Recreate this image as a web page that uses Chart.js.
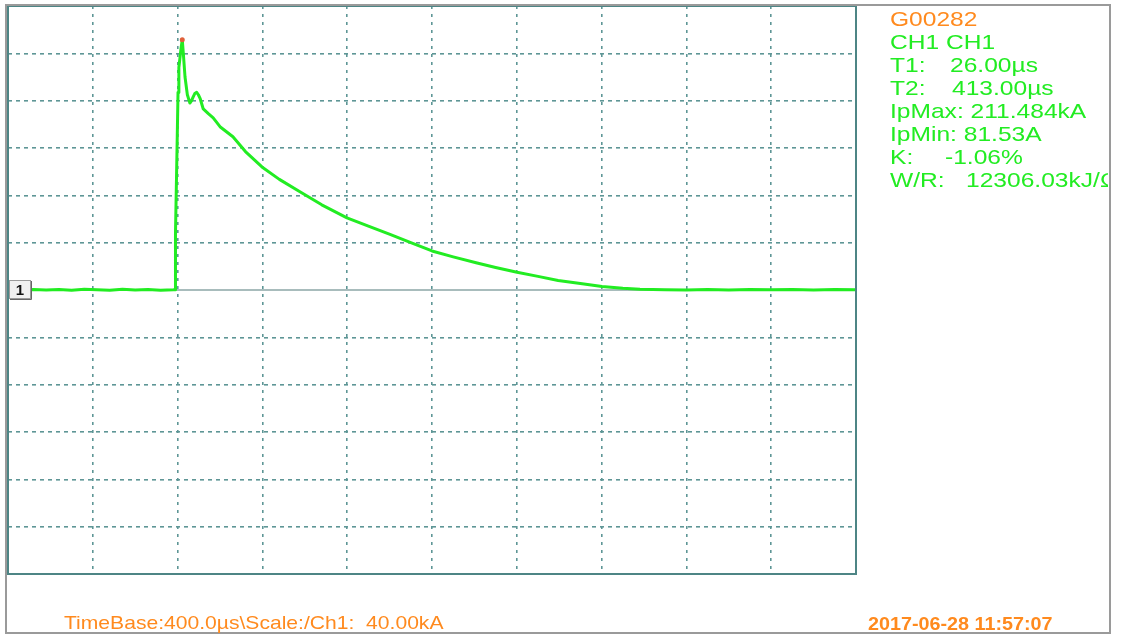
<!DOCTYPE html>
<html>
<head>
<meta charset="utf-8">
<script src="https://cdn.jsdelivr.net/npm/chart.js@4"></script>
<style>
  body { margin: 0; background: #fff; }
  #wrap { width: 1122px; height: 640px; position: relative; }
</style>
</head>
<body>
<div id="wrap"><canvas id="scope"></canvas></div>
<script>
// waveform (time in µs, current in kA)
const timeUs = [0, 60, 120, 180, 240, 300, 360, 420, 480, 540, 600, 660, 720, 780, 788,
    790, 797, 802, 806, 811, 816, 822, 827, 835, 846, 858, 866, 873, 881, 890, 898, 906,
    921, 945, 968, 1000, 1061, 1120, 1198, 1280, 1377, 1480, 1599, 1700, 1802, 1900, 2000,
    2100, 2208, 2300, 2401, 2500, 2595, 2700, 2802, 2900, 2981, 3100, 3200, 3300, 3400,
    3500, 3600, 3700, 3800, 3900, 4000];
const currentKA = [0.3, -0.2, 0.4, 0, 0.5, -0.3, 0.6, 0.2, -0.2, 0.7, 0.1, 0.4, -0.2, 0.2, 0.3,
    48, 116, 167, 188, 196, 204, 211.5, 200, 180, 165, 158, 160, 163, 166, 167, 165, 162,
    153, 149, 145.5, 138, 129.5, 117, 104, 93.5, 83, 72, 61, 54, 47, 40, 33,
    28, 23, 19, 15, 11.5, 8, 5.5, 3, 1.5, 0.6, 0.3, 0.1, 0.4, 0,
    0.5, 0.2, 0.4, 0.1, 0.5, 0.3];

// screen: 10 divisions of 400 µs, 12 divisions of 40 kA
const timeBase = 400;
const ampScale = 40;

const infoTitle = 'G00282';
const infoLines = [
    ['CH1 CH1', ''],
    ['T1:', '26.00µs'],
    ['T2:', '413.00µs'],
    ['IpMax: 211.484kA', ''],
    ['IpMin: 81.53A', ''],
    ['K:', '-1.06%'],
    ['W/R:', '12306.03kJ/Ω']
];
const valueOffsets = [0, 60, 62, 0, 0, 55, 76];
const footerLeft = 'TimeBase:400.0µs\\Scale:/Ch1:  40.00kA';
const footerRight = '2017-06-28 11:57:07';

const peakIdx = currentKA.indexOf(Math.max(...currentKA));
const GREEN = '#22ec22';
const ORANGE = '#ff8a1e';
const GRID = '#5e9696';
const FONT = '"Liberation Sans", Arial, sans-serif';

function stretchText(ctx, text, x, y, sx) {
    ctx.save();
    ctx.translate(x, y);
    ctx.scale(sx, 1);
    ctx.fillText(text, 0, 0);
    ctx.restore();
}

const scopeDecor = {
    id: 'scopeDecor',
    beforeDatasetsDraw(chart) {
        const {ctx, chartArea: a, scales} = chart;
        const y0 = scales.y.getPixelForValue(0);
        // channel reference line
        ctx.save();
        ctx.strokeStyle = '#a8bcbc';
        ctx.lineWidth = 2;
        ctx.beginPath();
        ctx.moveTo(a.left, y0);
        ctx.lineTo(a.right, y0);
        ctx.stroke();
        ctx.restore();
    },
    afterDraw(chart) {
        const {ctx, chartArea: a, scales} = chart;
        const y0 = scales.y.getPixelForValue(0);
        ctx.save();

        // screen border
        ctx.strokeStyle = '#4d8585';
        ctx.lineWidth = 2;
        ctx.strokeRect(a.left, a.top, a.right - a.left, a.bottom - a.top);

        // outer frame
        ctx.strokeStyle = '#9a9a9a';
        ctx.lineWidth = 2;
        ctx.strokeRect(6, 5, 1104, 628);

        // channel marker "1"
        ctx.fillStyle = '#f0f0f0';
        ctx.fillRect(a.left + 1, y0 - 10, 22, 19);
        ctx.strokeStyle = '#9a9a9a';
        ctx.lineWidth = 1;
        ctx.strokeRect(a.left + 1.5, y0 - 9.5, 21, 18);
        ctx.strokeStyle = '#666';
        ctx.beginPath();
        ctx.moveTo(a.left + 23.5, y0 - 9);
        ctx.lineTo(a.left + 23.5, y0 + 9.5);
        ctx.lineTo(a.left + 2, y0 + 9.5);
        ctx.stroke();
        ctx.fillStyle = '#111';
        ctx.font = 'bold 15px ' + FONT;
        ctx.textAlign = 'center';
        ctx.textBaseline = 'middle';
        ctx.fillText('1', a.left + 12, y0 + 0.5);

        // info block on the right, clipped by the frame
        ctx.beginPath();
        ctx.rect(0, 0, 1108, 640);
        ctx.clip();
        ctx.textAlign = 'left';
        ctx.textBaseline = 'middle';
        ctx.font = '21px ' + FONT;
        ctx.fillStyle = ORANGE;
        stretchText(ctx, infoTitle, 890, 20, 1.17);
        ctx.fillStyle = GREEN;
        infoLines.forEach((ln, i) => {
            const y = 43 + i * 23;
            stretchText(ctx, ln[0], 890, y, 1.17);
            if (ln[1]) stretchText(ctx, ln[1], 890 + valueOffsets[i], y, 1.17);
        });

        // footer
        ctx.fillStyle = ORANGE;
        ctx.font = '19px ' + FONT;
        stretchText(ctx, footerLeft, 64, 624, 1.11);
        ctx.font = 'bold 19px ' + FONT;
        stretchText(ctx, footerRight, 868, 625, 1.04);
        ctx.restore();
    }
};

new Chart(document.getElementById('scope'), {
    type: 'line',
    data: {
        datasets: [{
            data: timeUs.map((t, i) => ({x: t, y: currentKA[i]})),
            borderColor: GREEN,
            borderWidth: 3,
            borderJoinStyle: 'round',
            borderCapStyle: 'round',
            tension: 0,
            pointRadius: ctx => ctx.dataIndex === peakIdx ? 2.5 : 0,
            pointBackgroundColor: '#e0603a',
            pointBorderWidth: 0
        }]
    },
    options: {
        responsive: true,
        maintainAspectRatio: false,
        animation: false,
        layout: { padding: { left: 8, top: 6, right: 266, bottom: 66 } },
        plugins: { legend: { display: false }, tooltip: { enabled: false } },
        scales: {
            x: {
                type: 'linear',
                min: 0, max: timeBase * 10,
                ticks: { display: false, stepSize: timeBase },
                grid: { color: GRID, lineWidth: 1.6, drawTicks: false },
                border: { display: false, dash: [3, 5] }
            },
            y: {
                min: -ampScale * 6, max: ampScale * 6,
                ticks: { display: false, stepSize: ampScale },
                grid: { color: GRID, lineWidth: 1.6, drawTicks: false },
                border: { display: false, dash: [4, 4] }
            }
        }
    },
    plugins: [scopeDecor]
});
</script>
</body>
</html>
